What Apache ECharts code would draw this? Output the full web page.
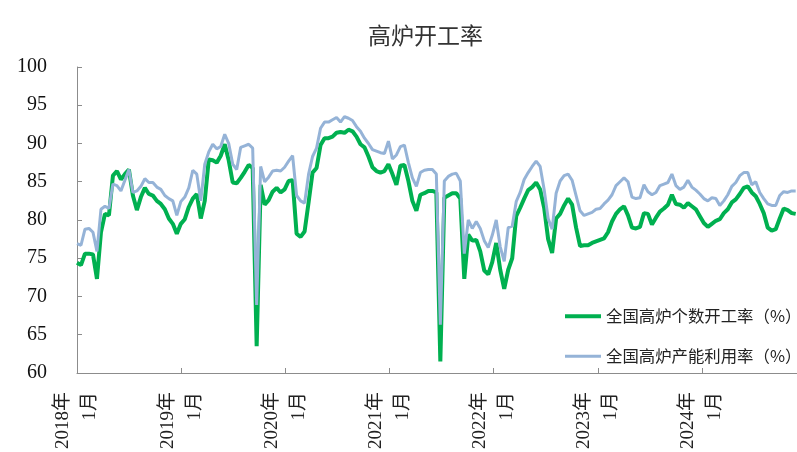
<!DOCTYPE html>
<html><head><meta charset="utf-8">
<script src="https://cdn.jsdelivr.net/npm/echarts@6/dist/echarts.min.js"></script>
<style>html,body{margin:0;padding:0;background:#fff}#c{width:797px;height:452px}</style>
</head><body><div id="c"></div>
<script>
const titleText = '高炉开工率';
const seriesNames = ['全国高炉个数开工率（%）', '全国高炉产能利用率（%）'];
const startYear = 2018;
const stepDays = 14;
const yTicks = [60, 65, 70, 75, 80, 85, 90, 95, 100];
const countRate = [74.4,74.1,75.6,75.6,75.5,72.3,78.4,80.8,80.6,85.8,86.4,85.3,86.0,86.6,83.2,81.3,83.0,84.2,83.4,83.2,
82.5,82.1,81.4,80.2,79.5,78.2,79.5,80.1,81.7,82.8,83.4,80.2,82.5,87.9,87.8,87.5,88.4,89.9,87.8,84.9,
84.8,85.5,86.3,87.2,86.8,63.5,84.6,82.0,82.6,83.7,84.2,83.6,84.0,85.1,85.2,78.2,77.8,78.5,82.3,86.2,
86.8,89.8,90.7,90.7,90.9,91.4,91.5,91.4,91.8,91.6,90.9,89.9,89.5,88.3,86.9,86.4,86.2,86.4,87.3,86.0,
84.6,87.1,87.2,85.1,82.5,81.2,83.3,83.5,83.8,83.8,83.6,61.5,82.9,83.2,83.5,83.5,82.8,72.3,78.1,77.3,
77.4,75.9,73.4,72.9,74.5,77.0,73.5,71.0,73.5,75.0,80.5,81.6,82.8,83.9,84.3,84.9,84.0,81.6,77.5,75.7,
80.2,80.8,81.9,82.8,82.0,79.0,76.6,76.7,76.7,77.0,77.2,77.4,77.6,78.4,79.8,80.8,81.4,81.8,80.6,79.0,
78.9,79.1,80.9,80.8,79.4,80.3,81.1,81.5,82.0,83.3,82.1,82.0,81.6,82.2,81.8,81.4,80.5,79.6,79.1,79.5,
79.9,80.1,80.9,81.4,82.3,82.7,83.4,84.2,84.4,83.6,83.1,82.1,80.9,79.0,78.6,78.8,80.2,81.5,81.3,80.9,80.8];
const capacityRate = [76.9,76.7,78.8,78.9,78.4,75.9,81.4,81.8,81.5,84.7,84.5,83.8,85.2,86.6,83.6,83.8,84.4,85.4,84.9,84.9,
84.3,84.0,83.2,82.8,82.5,80.6,82.4,83.0,84.2,86.5,86.0,82.5,87.3,88.9,89.9,89.3,89.6,91.2,90.0,87.3,
86.6,89.5,89.7,89.9,89.4,68.9,87.0,85.0,85.6,86.4,86.5,86.4,86.9,87.7,88.4,83.2,82.5,82.2,86.0,88.3,
89.4,92.0,92.8,92.8,93.1,93.4,92.8,93.5,93.3,93.0,92.2,91.6,90.7,90.0,89.2,89.0,88.8,88.7,90.3,88.0,
88.5,89.6,89.8,87.5,85.5,84.4,86.2,86.5,86.6,86.6,86.0,66.3,85.1,85.7,86.0,86.1,85.1,75.6,80.0,78.9,
79.8,78.9,77.3,76.4,78.0,80.0,76.5,74.6,79.0,79.2,82.4,83.6,85.3,86.2,87.0,87.7,87.0,84.0,80.2,78.8,
83.5,85.1,85.8,86.0,85.2,83.2,81.2,80.6,80.8,81.0,81.4,81.5,82.1,82.6,83.3,84.5,85.0,85.5,85.0,83.0,
82.8,82.9,84.6,83.7,83.3,83.6,84.5,84.7,84.9,86.0,84.5,84.0,84.3,85.2,84.3,83.9,83.4,82.8,82.5,82.9,
82.8,81.9,82.5,83.3,84.4,84.9,85.8,86.2,86.2,84.6,85.0,83.6,82.8,82.1,81.9,81.9,83.2,83.7,83.6,83.8,83.8];

// x position = years elapsed since Jan 2018 (samples every 14 days)
const xYears = countRate.map((_, i) => (stepDays * i) / 365.25);
const axisMaxYears = 6.912;

const chart = echarts.init(document.getElementById('c'), null, {renderer: 'canvas'});
const legendText = {fontFamily: '"Noto Sans CJK SC", sans-serif', fontSize: 16.4, color: '#222'};
chart.setOption({
  animation: false,
  backgroundColor: '#fff',
  title: {
    text: titleText, left: 363, top: 19,
    textStyle: {fontFamily: '"Noto Sans CJK SC", sans-serif', fontSize: 23, fontWeight: 'normal', color: '#333'}
  },
  grid: {left: 77, right: 0, top: 67, bottom: 77, containLabel: false},
  legend: [
    {data: [seriesNames[0]], left: 560, top: 303, icon: 'rect', itemWidth: 36, itemHeight: 4, itemGap: 6, textStyle: legendText},
    {data: [seriesNames[1]], left: 560, top: 343, icon: 'rect', itemWidth: 36, itemHeight: 3, itemGap: 6, textStyle: legendText}
  ],
  xAxis: {
    type: 'value', min: 0, max: axisMaxYears, interval: 1,
    axisLine: {lineStyle: {color: '#8c8c8c', width: 1}},
    axisTick: {show: true, inside: true, length: 5, lineStyle: {color: '#8c8c8c'}},
    axisLabel: {
      rotate: 90, margin: 19, showMaxLabel: false,
      fontFamily: '"Liberation Serif", "Noto Sans CJK SC", serif', fontSize: 19, lineHeight: 27, color: '#222',
      formatter: v => (Math.abs(v - Math.round(v)) < 1e-6) ? (startYear + Math.round(v)) + '年\n1月' : ''
    },
    splitLine: {show: false}
  },
  yAxis: {
    type: 'value', min: yTicks[0], max: yTicks[yTicks.length - 1], interval: 5,
    axisLine: {show: true, lineStyle: {color: '#8c8c8c', width: 1}},
    axisTick: {show: true, inside: true, length: 5, lineStyle: {color: '#8c8c8c'}},
    axisLabel: {margin: 30, fontFamily: '"Liberation Serif", serif', fontSize: 20, color: '#111'},
    splitLine: {show: false}
  },
  series: [
    {name: seriesNames[0], type: 'line', showSymbol: false, symbol: 'none',
     data: xYears.map((x, i) => [x, countRate[i]]),
     lineStyle: {color: '#00B050', width: 4}, itemStyle: {color: '#00B050'}, z: 2},
    {name: seriesNames[1], type: 'line', showSymbol: false, symbol: 'none',
     data: xYears.map((x, i) => [x, capacityRate[i]]),
     lineStyle: {color: '#95B3D7', width: 3}, itemStyle: {color: '#95B3D7'}, z: 3}
  ]
});
</script></body></html>
